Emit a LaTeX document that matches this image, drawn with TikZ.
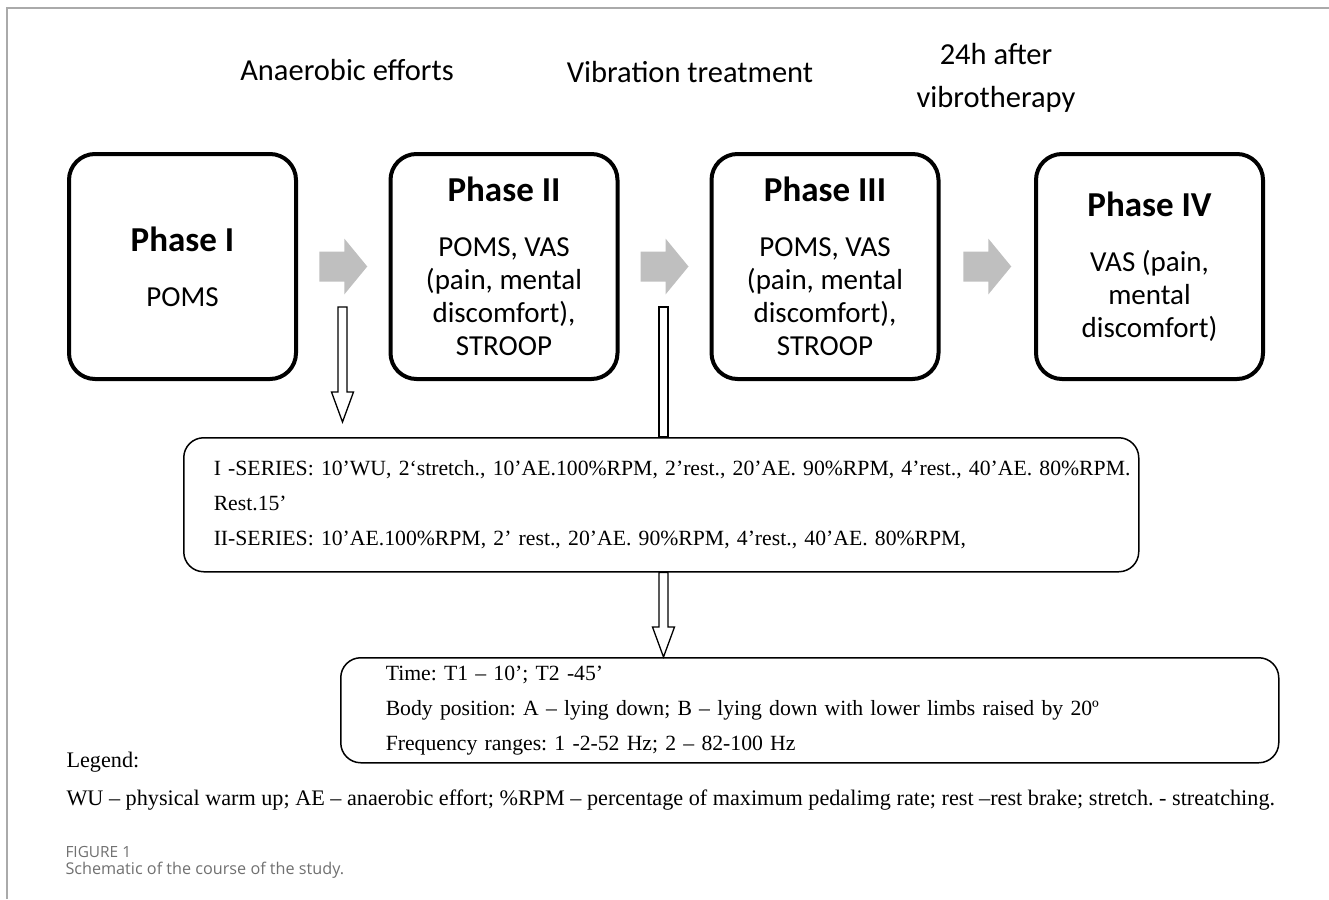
\documentclass[tikz,border=0pt]{standalone}
\usepackage{fontspec}
\setmainfont{Liberation Serif}
\newfontfamily\calib{Carlito}
\newfontfamily\capfont{Open Sans}
\usetikzlibrary{positioning,calc}
\definecolor{arrowgray}{HTML}{BFBFBF}
\definecolor{framegray}{HTML}{AAAAAA}
\definecolor{capgray}{HTML}{707070}
\frenchspacing
\tikzset{
  phase/.style={draw, line width=4pt, rounded corners=26pt, minimum width=227pt,
    minimum height=225pt, align=center, inner sep=0pt,
    font=\calib\fontsize{29}{33}\selectfont},
  notebox/.style={draw, line width=1.5pt, rounded corners=20pt, fill=white,
    align=left, inner ysep=0pt, font=\fontsize{21.7}{35}\selectfont},
  toplabel/.style={font=\calib\fontsize{30.5}{43}\selectfont, align=center},
  hollow/.style={draw, line width=1.3pt, fill=white},
}
\newcommand{\phtitle}[1]{{\fontsize{35}{40}\selectfont\bfseries #1}\\[22pt]}
\newcommand{\grayarrow}[1]{\fill[arrowgray, shift={(#1)}] (-24,-15) -- (1,-15) -- (1,-28) -- (24,0) -- (1,28) -- (1,15) -- (-24,15) -- cycle;}
\newcommand{\hollowdown}[2]{\draw[hollow] let \p1=(#1), \p2=(#2) in
  (\x1-4.5pt,\y1) -- (\x1+4.5pt,\y1) -- (\x1+4.5pt,\y2+30pt) -- (\x1+11pt,\y2+30pt)
  -- (\x1,\y2) -- (\x1-11pt,\y2+30pt) -- (\x1-4.5pt,\y2+30pt) -- cycle;}
\begin{document}
\begin{tikzpicture}[x=1pt, y=-1pt]
    \useasboundingbox (0,0) rectangle (1329,899);
    \draw[framegray, line width=2pt] (7,899) -- (7,8) -- (1329,8);
    % top labels
    \node[toplabel] (lab1) at (347,70) {Anaerobic efforts};
    \node[toplabel] (lab2) at (690,72) {Vibration treatment};
    \node[toplabel] (lab3) at (996,78) {24h after\\vibrotherapy};
    % phases
    \node[phase] (p1) at (182.5,266.5) {\phtitle{Phase I}POMS};
    \node[phase] (p2) at (504,266.5) {\phtitle{Phase II}POMS, VAS\\(pain, mental\\discomfort),\\STROOP};
    \node[phase] (p3) at (825,266.5) {\phtitle{Phase III}POMS, VAS\\(pain, mental\\discomfort),\\STROOP};
    \node[phase] (p4) at (1149.5,266.5) {\phtitle{Phase IV}VAS (pain,\\mental\\discomfort)};
    \coordinate (g1) at ($(p1.east)!0.5!(p2.west)$);
    \coordinate (g2) at ($(p2.east)!0.5!(p3.west)$);
    \coordinate (g3) at ($(p3.east)!0.5!(p4.west)$);
    \grayarrow{g1}
    \grayarrow{g2}
    \grayarrow{g3}
    % protocol boxes
    \node[notebox, anchor=north west, minimum width=955pt, minimum height=134pt,
      text width=895pt, inner xsep=30pt] (series) at (183,437)
      {\mbox{I -SERIES: 10’WU, 2‘stretch., 10’AE.100\%RPM, 2’rest., 20’AE. 90\%RPM, 4’rest., 40’AE. 80\%RPM.}\\
       Rest.15’\\
       \mbox{II-SERIES: 10’AE.100\%RPM, 2’ rest., 20’AE. 90\%RPM, 4’rest., 40’AE. 80\%RPM,}};
    \node[notebox, anchor=north west, minimum width=938pt, minimum height=105pt,
      text width=848pt, inner xsep=45pt] (vib) at (340,657)
      {Time: T1 – 10’; T2 -45’\\
       \mbox{Body position: A – lying down; B – lying down with lower limbs raised by 20º}\\
       Frequency ranges: 1 -2-52 Hz; 2 – 82-100 Hz};
    % hollow arrows
    \coordinate (h1) at (342.5,307);
    \coordinate (h2) at (663.5,307);
    \hollowdown{h1}{$(h1 |- series.north)+(0,-15)$}
    \draw[hollow] ($(h2)+(-4.5,0)$) rectangle ($(h2 |- series.north)+(4.5,0)$);
    \hollowdown{h2 |- series.south}{h2 |- vib.north}
    % legend and caption
    \node[anchor=west, font=\fontsize{22.2}{24}\selectfont] (leg) at (63,762) {Legend:};
    \node[anchor=west, font=\fontsize{22.2}{24}\selectfont] (legtxt) at (63,800)
      {WU – physical warm up; AE – anaerobic effort; \%RPM – percentage of maximum pedalimg rate; rest –rest brake; stretch. - streatching.};
    \node[anchor=west, text=capgray, font=\capfont\fontsize{15.4}{18}\selectfont] (fig) at (62,852) {FIGURE 1};
    \node[anchor=west, text=capgray, font=\capfont\fontsize{16.2}{20}\selectfont] (cap) at (62,870) {Schematic of the course of the study.};
\end{tikzpicture}
\end{document}
